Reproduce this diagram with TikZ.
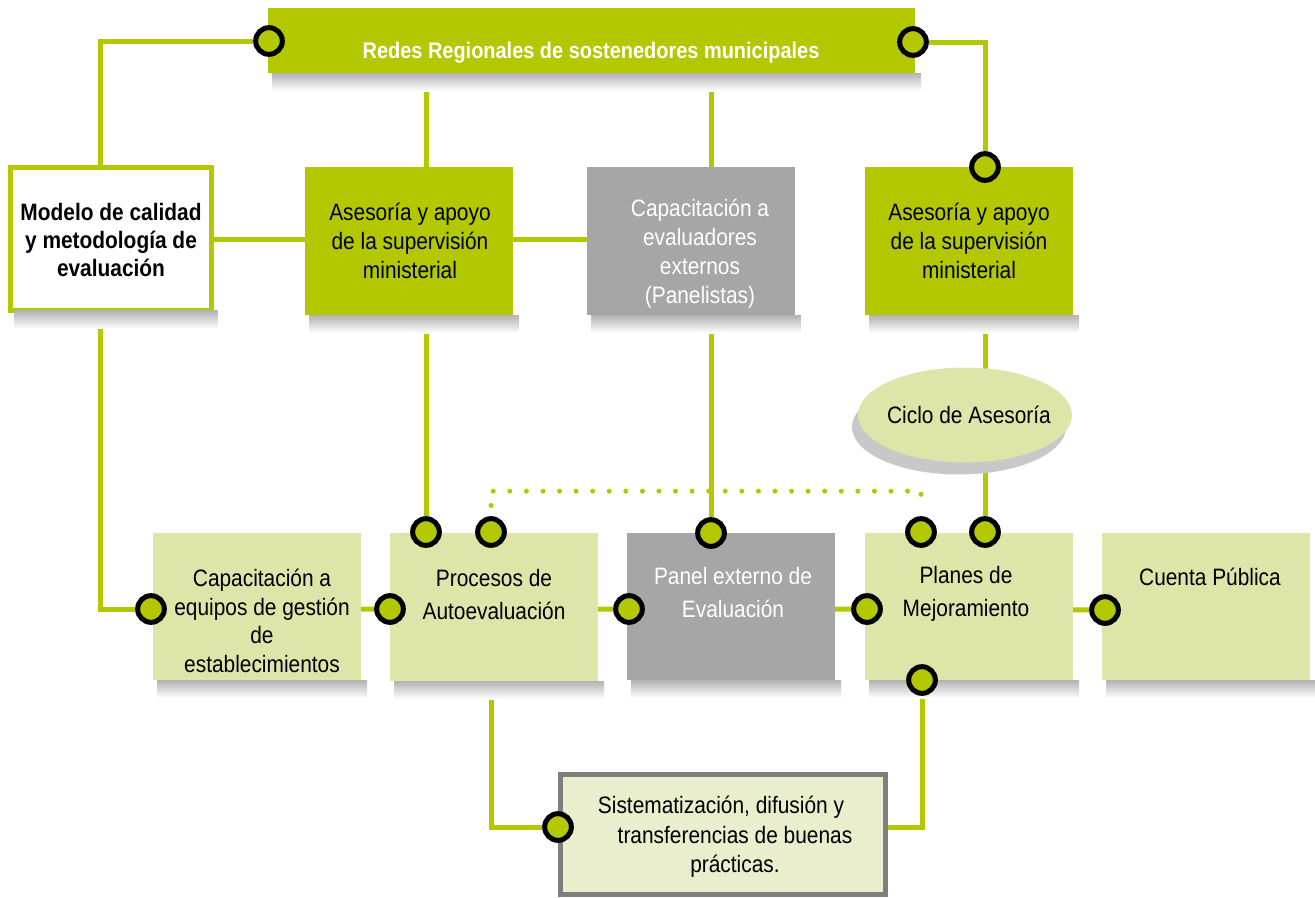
\documentclass[tikz,border=0pt]{standalone}
\usepackage{fontspec}
\setmainfont{Liberation Sans}[FakeStretch=0.88]
\usetikzlibrary{calc,backgrounds,shapes.geometric}
\definecolor{lime}{HTML}{B3C800}
\definecolor{lightg}{HTML}{DFE5A8}
\definecolor{boxgray}{HTML}{A6A6A6}
\definecolor{sistf}{HTML}{EAEECC}
\definecolor{sistb}{HTML}{7F7F7F}
\definecolor{shadowgray}{HTML}{C8C8C8}
\newcommand\boxshadow[1]{\shade[top color=black!30,bottom color=white] ($(#1.south west)+(4,0)$) rectangle ($(#1.south east)+(6,18)$);}
\begin{document}
\begin{tikzpicture}[x=0.75pt,y=-0.75pt,
  box/.style={rectangle, inner sep=0pt, outer sep=0pt, anchor=north west},
  conn/.style={draw=lime, line width=3.75pt},
  dotline/.style={draw=lime, line width=3.75pt, line cap=round, dash pattern=on 0pt off 12.43pt},
  joint/.style={circle, draw=black, fill=lime, line width=3.75pt, minimum size=20pt, inner sep=0pt},
  txt/.style={align=center, inner sep=0pt, font=\fontsize{17.8pt}{21.75pt}\selectfont},
  txtb/.style={align=center, inner sep=0pt, font=\fontsize{17.8pt}{24.75pt}\selectfont}]
\useasboundingbox (0,0) rectangle (1315,897);

% boxes
\node[box, fill=lime, minimum width=647*0.75pt, minimum height=65*0.75pt] (redes) at (268,8) {};
\node[box, draw=lime, fill=white, line width=3.75pt, minimum width=201*0.75pt, minimum height=143*0.75pt] (modelo) at (10.5,167.5) {};
\node[box, fill=lime, minimum width=208*0.75pt, minimum height=148*0.75pt] (ases1) at (305,167) {};
\node[box, fill=boxgray, minimum width=208*0.75pt, minimum height=148*0.75pt] (capev) at (587,167) {};
\node[box, fill=lime, minimum width=208*0.75pt, minimum height=148*0.75pt] (ases2) at (865,167) {};

\node[ellipse, fill=shadowgray, minimum width=214*0.75pt, minimum height=95*0.75pt, inner sep=0pt] (cicloS) at (959,427) {};
\node[ellipse, fill=lightg, minimum width=214*0.75pt, minimum height=95*0.75pt, inner sep=0pt] (ciclo) at (965,415) {};

\node[box, fill=lightg, minimum width=208*0.75pt, minimum height=147*0.75pt] (cap) at (153,533) {};
\node[box, fill=lightg, minimum width=208*0.75pt, minimum height=148*0.75pt] (proc) at (390,533) {};
\node[box, fill=boxgray, minimum width=208*0.75pt, minimum height=147*0.75pt] (panel) at (627,533) {};
\node[box, fill=lightg, minimum width=208*0.75pt, minimum height=147*0.75pt] (planes) at (865,533) {};
\node[box, fill=lightg, minimum width=208*0.75pt, minimum height=147*0.75pt] (cuenta) at (1102,533) {};
\node[box, draw=sistb, fill=sistf, line width=3.75pt, minimum width=325*0.75pt, minimum height=120*0.75pt] (sist) at (560.5,774.5) {};

% shadows
\boxshadow{redes}
\boxshadow{modelo}
\boxshadow{ases1}
\boxshadow{capev}
\boxshadow{ases2}
\boxshadow{cap}
\boxshadow{proc}
\boxshadow{panel}
\boxshadow{planes}
\boxshadow{cuenta}

% texts
\node[txt, text=white, font=\fontsize{17pt}{21pt}\selectfont\bfseries] (redesT) at (591,53) {Redes Regionales de sostenedores municipales};
\node[txt, font=\fontsize{17.8pt}{21pt}\selectfont\bfseries] (modeloT) at (111,240) {Modelo de calidad\\y metodología de\\evaluación};
\node[txt] (ases1T) at (410,241) {Asesoría y apoyo\\de la supervisión\\ministerial};
\node[txt, text=white] (capevT) at (700,254) {Capacitación a\\evaluadores\\externos\\(Panelistas)};
\node[txt] (ases2T) at (969,241) {Asesoría y apoyo\\de la supervisión\\ministerial};
\node[txt] (cicloT) at (969,415) {Ciclo de Asesoría};
\node[txt, font=\fontsize{17.8pt}{21.4pt}\selectfont] (capT) at (262,621) {Capacitación a\\equipos de gestión\\de\\establecimientos};
\node[txtb] (procT) at (494,595) {Procesos de\\Autoevaluación};
\node[txtb, text=white] (panelT) at (733,593) {Panel externo de\\Evaluación};
\node[txtb] (planesT) at (966,594) {Planes de\\Mejoramiento};
\node[txtb] (cuentaT) at (1210,577) {Cuenta Pública};
\node[txt, font=\fontsize{17.8pt}{22pt}\selectfont] (sistT) at (735,837) {Sistematización, difusión y\kern21pt\\transferencias de buenas\\prácticas.};

% joints
\node[joint] (c1) at (269,41) {};
\node[joint] (c2) at (913,42) {};
\node[joint] (c3) at (985,167) {};
\node[joint] (c4) at (151,609) {};
\node[joint] (c5) at (390,609) {};
\node[joint] (c6) at (629,609) {};
\node[joint] (c7) at (867,609) {};
\node[joint] (c8) at (1105,610) {};
\node[joint] (c9) at (426,532) {};
\node[joint] (c10) at (491,532) {};
\node[joint] (c11) at (711,533) {};
\node[joint] (c12) at (921,532) {};
\node[joint] (c13) at (985,532) {};
\node[joint] (c14) at (922,680) {};
\node[joint] (c15) at (558,827) {};
\coordinate (lx) at (100,400);

% connectors
\begin{scope}[on background layer]
\draw[conn] (c1) -| (lx) |- (c4);
\draw[conn] (c2) -| (c3);
\draw[conn] (c3) -- (c13);
\draw[conn] (redes.south -| c9) -- (c9);
\draw[conn] (redes.south -| c11) -- (c11);
\draw[conn] (modelo.east) -- (modelo.east -| capev.west);
\draw[conn] (c4) -- (c5) -- (c6) -- (c7) -- (c8);
\draw[conn] (c10) |- (c15);
\draw[conn] (c14) |- (c15);
\draw[dotline, shorten <=8pt, shorten >=8pt] (c10.north) -- ++(0,-25) -| (c12.north);
\end{scope}
\end{tikzpicture}
\end{document}
